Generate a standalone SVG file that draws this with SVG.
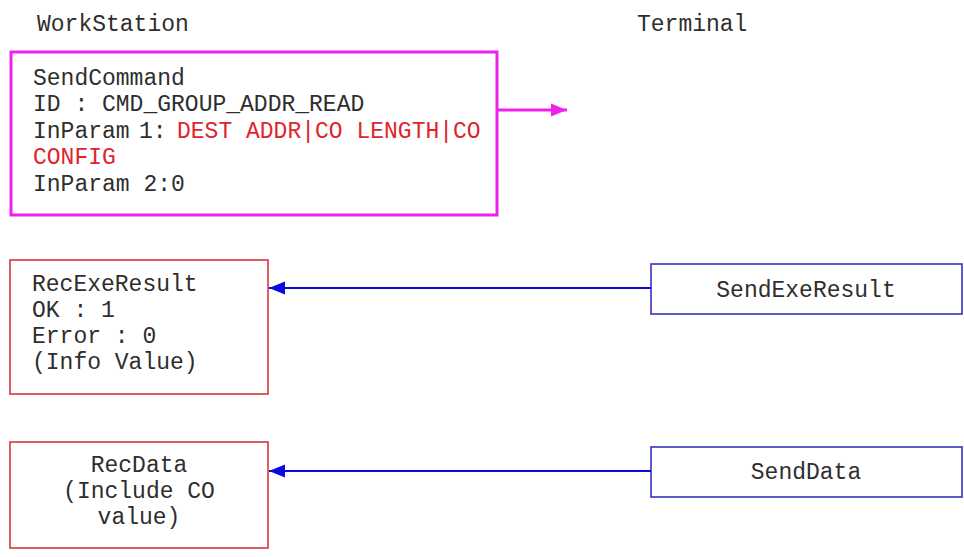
<svg xmlns="http://www.w3.org/2000/svg" width="964" height="557" viewBox="0 0 964 557">
<style>
text{font-family:"Liberation Mono","Courier New",monospace;font-size:23px;fill:#2e2e2e}
.red{fill:#e0242c}
.mid{text-anchor:middle}
.rbox{fill:#fff;stroke:#d8363c;stroke-width:1.6}
.bbox{fill:#fff;stroke:#3434c4;stroke-width:1.6}
</style>
<defs>
<marker id="mh" markerUnits="userSpaceOnUse" viewBox="0 0 16 14" markerWidth="16" markerHeight="14" refX="16" refY="7" orient="auto">
<path d="M0,0.5 L16,7 L0,13.5 Z" fill="#ee22ee"/>
</marker>
<marker id="bh" markerUnits="userSpaceOnUse" viewBox="0 0 16 14" markerWidth="16" markerHeight="14" refX="16" refY="7" orient="auto">
<path d="M0,0.5 L16,7 L0,13.5 Z" fill="#0a0adc"/>
</marker>
</defs>
<rect width="964" height="557" fill="#fff"/>
<text x="37" y="31">WorkStation</text>
<text x="637" y="31">Terminal</text>
<g id="sendcommand">
<rect x="11" y="52" width="486" height="163" fill="#fff" stroke="#ee22ee" stroke-width="3"/>
<text x="33" y="85">SendCommand</text>
<text x="33" y="111">ID : CMD_GROUP_ADDR_READ</text>
<text x="33" y="137.5">InParam</text>
<text x="139" y="137.5">1:</text>
<text class="red" x="177" y="137.5">DEST ADDR|CO LENGTH|CO</text>
<text class="red" x="33" y="164">CONFIG</text>
<text x="33" y="190.5">InParam 2:0</text>
</g>
<g id="recexeresult">
<rect class="rbox" x="10" y="260" width="258" height="134"/>
<text x="32" y="291">RecExeResult</text>
<text x="32" y="317">OK : 1</text>
<text x="32" y="343">Error : 0</text>
<text x="32" y="369">(Info Value)</text>
</g>
<g id="recdata">
<rect class="rbox" x="10" y="442" width="258" height="106"/>
<text class="mid" x="139" y="472">RecData</text>
<text class="mid" x="139" y="498">(Include CO</text>
<text class="mid" x="139" y="524">value)</text>
</g>
<g id="sendexeresult">
<rect class="bbox" x="651" y="264" width="311" height="50"/>
<text class="mid" x="806" y="297">SendExeResult</text>
</g>
<g id="senddata">
<rect class="bbox" x="651" y="447" width="311" height="50"/>
<text class="mid" x="806" y="479">SendData</text>
</g>
<g id="connectors">
<line x1="497" y1="110" x2="567" y2="110" stroke="#ee22ee" stroke-width="3" marker-end="url(#mh)"/>
<line x1="651" y1="288" x2="269" y2="288" stroke="#0a0adc" stroke-width="2" marker-end="url(#bh)"/>
<line x1="651" y1="471" x2="269" y2="471" stroke="#0a0adc" stroke-width="2" marker-end="url(#bh)"/>
</g>
</svg>
